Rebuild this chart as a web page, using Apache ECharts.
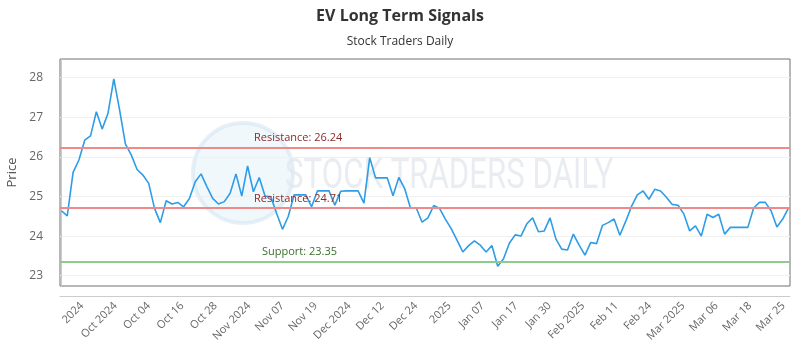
<!DOCTYPE html>
<html>
<head>
<meta charset="utf-8">
<script src="https://cdn.jsdelivr.net/npm/echarts@6/dist/echarts.min.js"></script>
<style>html,body{margin:0;padding:0;background:#fff}#c{width:800px;height:350px}</style>
</head>
<body>
<div id="c"></div>
<script>
const titleText = "EV Long Term Signals";
const subtitleText = "Stock Traders Daily";
const prices = [
24.64,24.51,25.61,25.92,26.42,26.53,27.14,26.70,27.10,27.97,
27.18,26.32,26.05,25.68,25.54,25.33,24.70,24.34,24.89,24.81,
24.85,24.74,24.95,25.37,25.57,25.25,24.95,24.81,24.87,25.08,
25.57,25.01,25.77,25.12,25.48,25.01,24.99,24.57,24.17,24.50,
25.04,25.04,25.04,24.74,25.14,25.14,25.14,24.78,25.13,25.14,
25.14,25.14,24.83,25.98,25.47,25.47,25.47,25.02,25.48,25.20,
24.71,24.71,24.35,24.46,24.77,24.70,24.43,24.19,23.90,23.60,
23.76,23.88,23.77,23.60,23.76,23.24,23.43,23.82,24.03,24.00,
24.31,24.46,24.11,24.13,24.46,23.93,23.67,23.65,24.05,23.77,
23.52,23.84,23.81,24.27,24.34,24.43,24.02,24.37,24.75,25.04,
25.14,24.93,25.18,25.14,24.98,24.80,24.78,24.56,24.13,24.26,
24.00,24.55,24.47,24.55,24.05,24.22,24.22,24.22,24.22,24.71,
24.85,24.85,24.64,24.23,24.43,24.71
];
const xLabels = ["2024","Oct 2024","Oct 04","Oct 16","Oct 28","Nov 2024","Nov 07","Nov 19","Dec 2024","Dec 12","Dec 24","2025","Jan 07","Jan 17","Jan 30","Feb 2025","Feb 11","Feb 24","Mar 2025","Mar 06","Mar 18","Mar 25"];
const yTicks = [23,24,25,26,27,28];
const resistanceLevels = [26.24, 24.71];
const supportLevels = [23.35];

const labelStart = 3.53, labelStep = 5.742;
const labelVals = xLabels.map((_, i) => labelStart + i * labelStep);

const chart = echarts.init(document.getElementById('c'), null, {renderer: 'canvas'});
const FONT = '"Open Sans", "Noto Sans", sans-serif';

const markData = [];
resistanceLevels.forEach(v => markData.push({
  yAxis: v,
  lineStyle: {color: '#f08a8a', width: 2, type: 'solid'},
  label: {formatter: 'Resistance: ' + v.toFixed(2), color: '#8b2a2a'}
}));
supportLevels.forEach(v => markData.push({
  yAxis: v,
  lineStyle: {color: '#8fca8f', width: 2, type: 'solid'},
  label: {formatter: 'Support: ' + v.toFixed(2), color: '#3b6e2e', distance: [202, 4]}
}));

chart.setOption({
  animation: false,
  title: {
    text: titleText,
    subtext: subtitleText,
    left: 'center',
    top: 3,
    itemGap: 12,
    textStyle: {fontFamily: FONT, fontSize: 16, fontWeight: 'bold', color: '#333'},
    subtextStyle: {fontFamily: FONT, fontSize: 12, color: '#333'}
  },
  graphic: [
    {type: 'circle', z: 0, silent: true, shape: {cx: 243, cy: 173, r: 50},
     style: {fill: 'rgba(210,232,245,0.3)', stroke: 'rgba(210,228,240,0.55)', lineWidth: 4}},
    {type: 'text', z: 0, silent: true, x: 285, y: 177, scaleX: 0.725,
     style: {text: 'STOCK TRADERS DAILY', fontFamily: 'Roboto, sans-serif', fontSize: 43,
             verticalAlign: 'middle', fill: 'rgba(226,231,237,0.75)'}}
  ],
  grid: {left: 60, right: 10, top: 59, bottom: 64, show: true, borderColor: '#707070', borderWidth: 1,
         containLabel: false, outerBoundsMode: 'none'},
  xAxis: {
    type: 'value', min: -0.25, max: 125.25, offset: 10,
    axisLine: {show: true, lineStyle: {color: '#ccc'}},
    axisTick: {show: false},
    splitLine: {show: false},
    axisLabel: {
      customValues: labelVals,
      rotate: 45, margin: 8, fontFamily: FONT, fontSize: 11, color: '#666',
      formatter: v => xLabels[Math.round((v - labelStart) / labelStep)] || ''
    }
  },
  yAxis: {
    type: 'value', min: 22.74, max: 28.47, offset: 10,
    name: 'Price', nameLocation: 'middle', nameGap: 28,
    nameTextStyle: {fontFamily: FONT, fontSize: 13, color: '#555'},
    axisLine: {show: true, lineStyle: {color: '#ccc'}},
    axisTick: {show: false, customValues: yTicks},
    axisLabel: {customValues: yTicks, margin: 7, fontFamily: FONT, fontSize: 12, color: '#666'},
    splitLine: {show: true, lineStyle: {color: '#f0f0f0'}}
  },
  series: [{
    type: 'line',
    data: prices.map((p, i) => [i, p]),
    showSymbol: false,
    z: 3,
    lineStyle: {color: '#2e9ce6', width: 1.6},
    itemStyle: {color: '#2e9ce6'},
    markLine: {
      silent: true, symbol: 'none',
      label: {show: true, position: 'insideStartTop', distance: [194, 4], fontFamily: FONT, fontSize: 11},
      data: markData
    }
  }]
});
</script>
</body>
</html>
